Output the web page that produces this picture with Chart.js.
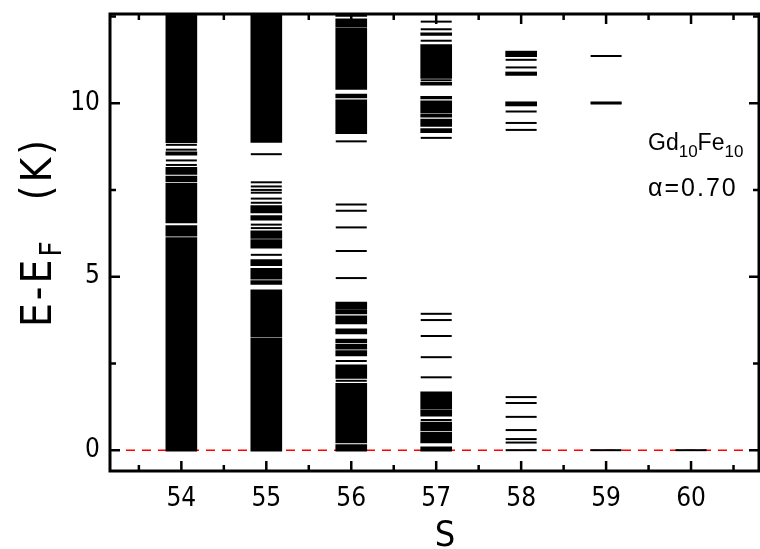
<!DOCTYPE html>
<html>
<head>
<meta charset="utf-8">
<script src="https://cdn.jsdelivr.net/npm/chart.js@4"></script>
<style>
  html, body { margin: 0; padding: 0; background: #fff; }
  #wrap { width: 760px; height: 549px; }
</style>
</head>
<body>
<div id="wrap"><canvas id="levels" width="760" height="549"></canvas></div>
<script>
// spin sectors S
const sValues = [54, 55, 56, 57, 58, 59, 60];
const xTicks = [54, 55, 56, 57, 58, 59, 60];
const yTicks = [0, 5, 10];

// dense, merged groups of levels: [lowest, highest] energy (K)
const bands54 = [[-0.03, 6.13], [6.17, 6.47], [6.55, 7.69], [7.73, 7.9], [7.95, 8.15], [8.5, 8.6], [8.86, 12.8]];
const bands55 = [[-0.03, 3.24], [3.27, 4.62], [4.78, 4.89], [4.93, 5.24], [5.32, 5.49], [5.82, 6.07], [6.1, 6.32],
                 [6.63, 6.76], [6.84, 7.05], [8.87, 12.8]];
const bands56 = [[-0.03, 0.16], [0.21, 1.93], [2.07, 2.46], [2.72, 2.87], [2.91, 3.06], [3.1, 3.2], [3.35, 3.5],
                 [3.64, 3.87], [3.93, 4.05], [4.07, 4.27], [9.12, 10.1], [10.15, 10.26], [10.4, 12.17],
                 [12.2, 12.43], [12.5, 12.8]];
const bands57 = [[-0.03, 0.1], [0.21, 0.52], [0.56, 0.81], [0.98, 1.16], [1.19, 1.68], [9.15, 9.27], [9.33, 9.54],
                 [9.6, 9.69], [9.73, 10.07], [10.12, 10.2], [10.52, 10.6], [10.71, 11.69], [11.95, 12.03]];
const bands58 = [[9.92, 10.04], [10.8, 10.9], [11.34, 11.5]];

// single, resolved levels (K)
const lines54 = [8.22, 8.35, 8.66, 8.8];
const lines55 = [5.63, 6.4, 6.5, 7.13, 7.25, 7.42, 7.5, 7.6, 7.72, 8.53];
const lines56 = [2.0, 2.57, 4.96, 5.74, 6.42, 6.9, 7.08, 8.9];
const lines57 = [0.87, 2.1, 2.68, 3.29, 3.75, 3.93, 9.0, 10.66, 11.8, 12.13, 12.35];
const lines58 = [0.0, 0.22, 0.32, 0.58, 0.96, 1.36, 1.53, 9.23, 9.43, 9.76, 11.03, 11.25];
const lines59 = [0.0, 9.99, 10.02, 11.36];
const lines60 = [0.0];

const allBands = [bands54, bands55, bands56, bands57, bands58, [], []];
const allLines = [lines54, lines55, lines56, lines57, lines58, lines59, lines60];

const bandData = [];
const lineData = [];
sValues.forEach((s, i) => {
  allBands[i].forEach(b => bandData.push({ x: s, y: b }));
  allLines[i].forEach(e => lineData.push({ x: s, y: e }));
});

const tickFont = "'DejaVu Sans Condensed', 'Liberation Sans Narrow', sans-serif";
const textFont = "'Liberation Sans', Arial, sans-serif";

const framePlugin = {
  id: 'frame',
  beforeDatasetsDraw(chart) {
    const { ctx, chartArea: a, scales: { y } } = chart;
    const y0 = y.getPixelForValue(0);
    ctx.save();
    ctx.strokeStyle = '#f00';
    ctx.lineWidth = 1.5;
    ctx.setLineDash([9, 7]);
    ctx.beginPath();
    ctx.moveTo(a.left, y0);
    ctx.lineTo(a.right, y0);
    ctx.stroke();
    ctx.restore();
  },
  afterDraw(chart) {
    const { ctx, chartArea: a, scales: { x, y } } = chart;
    ctx.save();
    ctx.strokeStyle = '#000';
    ctx.lineWidth = 3;
    ctx.strokeRect(a.left, a.top, a.right - a.left, a.bottom - a.top);

    // inward ticks on all four sides
    ctx.lineWidth = 2.5;
    ctx.beginPath();
    for (let v = 53.5; v <= 60.75; v += 0.5) {
      const px = x.getPixelForValue(v);
      const len = Number.isInteger(v) ? 10 : 6;
      ctx.moveTo(px, a.bottom); ctx.lineTo(px, a.bottom - len);
      ctx.moveTo(px, a.top); ctx.lineTo(px, a.top + len);
    }
    for (let v = 0; v <= 12.5; v += 2.5) {
      const py = y.getPixelForValue(v);
      const len = v % 5 === 0 ? 10 : 6;
      ctx.moveTo(a.left, py); ctx.lineTo(a.left + len, py);
      ctx.moveTo(a.right, py); ctx.lineTo(a.right - len, py);
    }
    ctx.stroke();

    ctx.fillStyle = '#000';
    // x title
    ctx.font = "36px " + tickFont;
    ctx.textAlign = 'center';
    ctx.textBaseline = 'alphabetic';
    ctx.fillText('S', 445, 546);

    // y title with subscript
    ctx.save();
    ctx.translate(51, 232);
    ctx.rotate(-Math.PI / 2);
    ctx.textAlign = 'left';
    ctx.letterSpacing = '3px';
    const big = "42px " + tickFont, small = "30px " + tickFont;
    ctx.font = big;
    const w1 = ctx.measureText('E-E').width;
    const w3 = ctx.measureText('  (K)').width;
    ctx.font = small;
    const w2 = ctx.measureText('F').width + 8;
    let cx = -(w1 + w2 + w3) / 2;
    ctx.font = big; ctx.fillText('E-E', cx, 0); cx += w1;
    ctx.font = small; ctx.fillText('F', cx, 10); cx += w2;
    ctx.font = big; ctx.fillText('  (K)', cx, 0);
    ctx.restore();

    // annotation
    ctx.textAlign = 'left';
    let tx = 648;
    const parts = [['Gd', 0, 23], ['10', 7, 17], ['Fe', 0, 23], ['10', 7, 17]];
    parts.forEach(([t, dy, fs]) => {
      ctx.font = fs + 'px ' + textFont;
      ctx.fillText(t, tx, 150 + dy);
      tx += ctx.measureText(t).width;
    });
    ctx.font = '25px ' + textFont;
    ctx.letterSpacing = '2px';
    ctx.fillText('\u03b1=0.70', 648, 196);
    ctx.restore();
  }
};

new Chart(document.getElementById('levels'), {
  type: 'bar',
  data: {
    datasets: [
      {
        type: 'bar',
        data: bandData,
        backgroundColor: '#000',
        borderWidth: 0,
        barThickness: 31,
        grouped: false
      },
      {
        type: 'scatter',
        data: lineData,
        showLine: false,
        pointStyle: 'line',
        pointRadius: 15.5,
        pointHoverRadius: 15.5,
        borderColor: '#000',
        borderWidth: 2,
        pointBorderWidth: 2
      }
    ]
  },
  options: {
    responsive: false,
    animation: false,
    events: [],
    layout: { autoPadding: false, padding: { top: 14, right: 1, left: 0, bottom: 0 } },
    plugins: { legend: { display: false }, tooltip: { enabled: false } },
    scales: {
      x: {
        type: 'linear',
        offset: false,
        min: 53.16,
        max: 60.8,
        grid: { display: false, drawTicks: false },
        border: { display: false },
        afterBuildTicks: s => { s.ticks = xTicks.map(v => ({ value: v })); },
        afterFit: s => { s.height = 78; s.paddingLeft = 0; s.paddingRight = 0; },
        ticks: { color: '#000', padding: 13, font: { family: tickFont, size: 26 }, maxRotation: 0 }
      },
      y: {
        type: 'linear',
        min: -0.6,
        max: 12.57,
        grid: { display: false, drawTicks: false },
        border: { display: false },
        afterBuildTicks: s => { s.ticks = yTicks.map(v => ({ value: v })); },
        afterFit: s => { s.width = 110; s.paddingTop = 0; s.paddingBottom = 0; },
        ticks: { color: '#000', padding: 10, font: { family: tickFont, size: 26 } }
      }
    }
  },
  plugins: [framePlugin]
});
</script>
</body>
</html>
